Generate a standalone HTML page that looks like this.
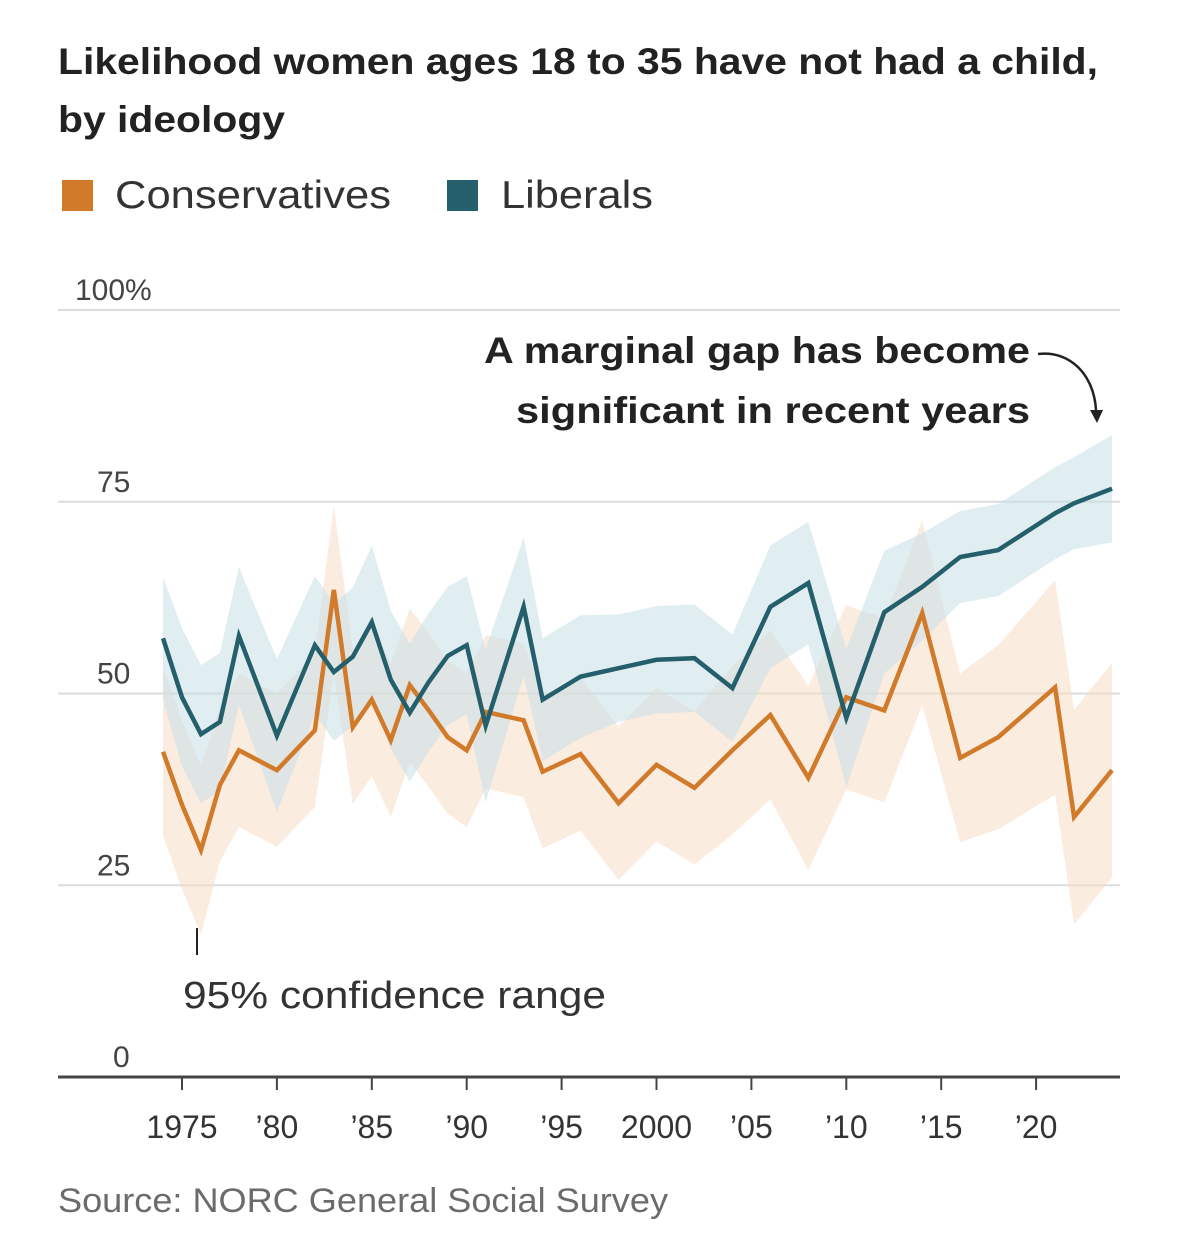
<!DOCTYPE html>
<html><head><meta charset="utf-8">
<style>
html,body{margin:0;padding:0;background:#fff;}
svg{display:block;font-family:"Liberation Sans",sans-serif;}
</style></head>
<body>
<svg id="chart" width="1179" height="1251" viewBox="0 0 1179 1251" xmlns="http://www.w3.org/2000/svg">
  <text x="58" y="74" font-size="37" font-weight="bold" fill="#222" textLength="1040" lengthAdjust="spacingAndGlyphs">Likelihood women ages 18 to 35 have not had a child,</text>
  <text x="58" y="132" font-size="37" font-weight="bold" fill="#222" textLength="227" lengthAdjust="spacingAndGlyphs">by ideology</text>
  <g>
    <rect x="62" y="180" width="31" height="31" fill="#d07a2a"/>
    <text x="115" y="208" font-size="39" fill="#333" textLength="276" lengthAdjust="spacingAndGlyphs">Conservatives</text>
    <rect x="447" y="180" width="31" height="31" fill="#245f6b"/>
    <text x="501" y="208" font-size="39" fill="#333" textLength="152" lengthAdjust="spacingAndGlyphs">Liberals</text>
  </g>
  <g id="grid"></g>
  <g id="bands"></g>
  <g id="lines"></g>
  <g id="axes"></g>
  <g>
    <text x="1030" y="363" text-anchor="end" font-size="37" font-weight="bold" fill="#222" textLength="546" lengthAdjust="spacingAndGlyphs">A marginal gap has become</text>
    <text x="1030" y="423" text-anchor="end" font-size="37" font-weight="bold" fill="#222" textLength="514" lengthAdjust="spacingAndGlyphs">significant in recent years</text>
    <path d="M1038,354 C1070,350 1094,375 1096,410" fill="none" stroke="#222" stroke-width="2.5"/>
    <path d="M1090,410 L1103,410 L1097,423 Z" fill="#222"/>
  </g>
  <g>
    <line x1="197" y1="928" x2="197" y2="955" stroke="#222" stroke-width="2"/>
    <text x="183" y="1008" font-size="38" fill="#333" textLength="423" lengthAdjust="spacingAndGlyphs">95% confidence range</text>
  </g>
  <text x="58" y="1212" font-size="34" fill="#6b6b6b" textLength="610" lengthAdjust="spacingAndGlyphs">Source: NORC General Social Survey</text>
</svg>
<script>
const years = [1974,1975,1976,1977,1978,1980,1982,1983,1984,1985,1986,1987,1988,1989,1990,1991,1993,1994,1996,1998,2000,2002,2004,2006,2008,2010,2012,2014,2016,2018,2021,2022,2024];
const liberals = [57.2,49.5,44.7,46.3,57.5,44.5,56.3,52.8,54.8,59.3,51.8,47.5,51.5,54.9,56.3,45.8,61.3,49.2,52.2,53.3,54.4,54.6,50.7,61.3,64.4,46.8,60.6,63.9,67.8,68.7,73.5,74.8,76.7];
const conservatives = [42.4,35.5,29.6,38.1,42.6,40.0,45.2,63.5,45.6,49.2,43.9,51.1,47.8,44.3,42.6,47.6,46.5,39.8,42.1,35.7,40.7,37.7,42.6,47.2,39.0,49.5,47.8,60.5,41.6,44.3,50.8,33.9,40.0];
const liberalsBand = [8,9,9,9,9,10,9,9,9,10,9,9,9,9,9,10,9,8,8,7,7,7,7,8,8,9,8,7,6,6,6,6,7];
const conservativesBand = [11,11,11,10,10,10,10,11,10,10,10,10,10,10,10,10,10,10,10,10,10,10,11,11,12,12,12,12,11,12,14,14,14];
const yTicks = [0,25,50,75,100];
const yTickLabels = ['0','25','50','75','100%'];
const xTicks = [1975,1980,1985,1990,1995,2000,2005,2010,2015,2020];
const xTickLabels = ['1975','\u201980','\u201985','\u201990','\u201995','2000','\u201905','\u201910','\u201915','\u201920'];

const NS='http://www.w3.org/2000/svg';
const x = yr => 182 + (yr-1975)*18.98;
const y = v => 1077 - v*7.67;
function mk(tag, parent){const e=document.createElementNS(NS,tag);parent.appendChild(e);return e;}

const grid=document.getElementById('grid');
yTicks.forEach((t,i)=>{
  if(t>0){
    const l=mk('line',grid);
    
    
    l.setAttribute('x1',58);l.setAttribute('x2',1120);
    l.setAttribute('y1',y(t));l.setAttribute('y2',y(t));
    l.setAttribute('stroke','#dcdcdc');l.setAttribute('stroke-width','2');
  }
  const tx=mk('text',grid);
  
  
  tx.setAttribute('x', t===100?75:(t===0?113:97));
  tx.setAttribute('y', y(t)-10);
  tx.setAttribute('font-size','30');
  tx.setAttribute('fill','#444');
  tx.textContent=yTickLabels[i];
});

function band(vals, hw, fill, name){
  const g=document.getElementById('bands');
  const up=vals.map((v,i)=>x(years[i])+','+y(Math.min(100,v+hw[i])));
  const lo=vals.map((v,i)=>x(years[i])+','+y(Math.max(0,v-hw[i]))).reverse();
  const p=mk('polygon',g);
  
  
  p.setAttribute('points',up.concat(lo).join(' '));
  p.setAttribute('fill',fill);
  p.setAttribute('fill-opacity','0.55');
}
band(conservatives, conservativesBand, '#f8dcc6', 'band-conservatives');
band(liberals, liberalsBand, '#c6e0e8', 'band-liberals');

function line(vals, color, name){
  const g=document.getElementById('lines');
  const p=mk('polyline',g);
  
  
  p.setAttribute('points',vals.map((v,i)=>x(years[i])+','+y(v)).join(' '));
  p.setAttribute('fill','none');p.setAttribute('stroke',color);
  p.setAttribute('stroke-width','4.5');p.setAttribute('stroke-linejoin','miter');
}
line(conservatives,'#d07a2a','line-conservatives');
line(liberals,'#245f6b','line-liberals');

const axes=document.getElementById('axes');
const ax=mk('line',axes);


ax.setAttribute('x1',58);ax.setAttribute('x2',1120);ax.setAttribute('y1',1077);ax.setAttribute('y2',1077);
ax.setAttribute('stroke','#444');ax.setAttribute('stroke-width','3');
xTicks.forEach((t,i)=>{
  const tk=mk('line',axes);
  
  
  tk.setAttribute('x1',x(t));tk.setAttribute('x2',x(t));tk.setAttribute('y1',1077);tk.setAttribute('y2',1090);
  tk.setAttribute('stroke','#444');tk.setAttribute('stroke-width','2');
  const tx=mk('text',axes);
  
  
  tx.setAttribute('x',x(t));tx.setAttribute('y',1138);
  tx.setAttribute('text-anchor','middle');tx.setAttribute('font-size','32');tx.setAttribute('fill','#333');
  tx.textContent=xTickLabels[i];
});
</script>
</body></html>
